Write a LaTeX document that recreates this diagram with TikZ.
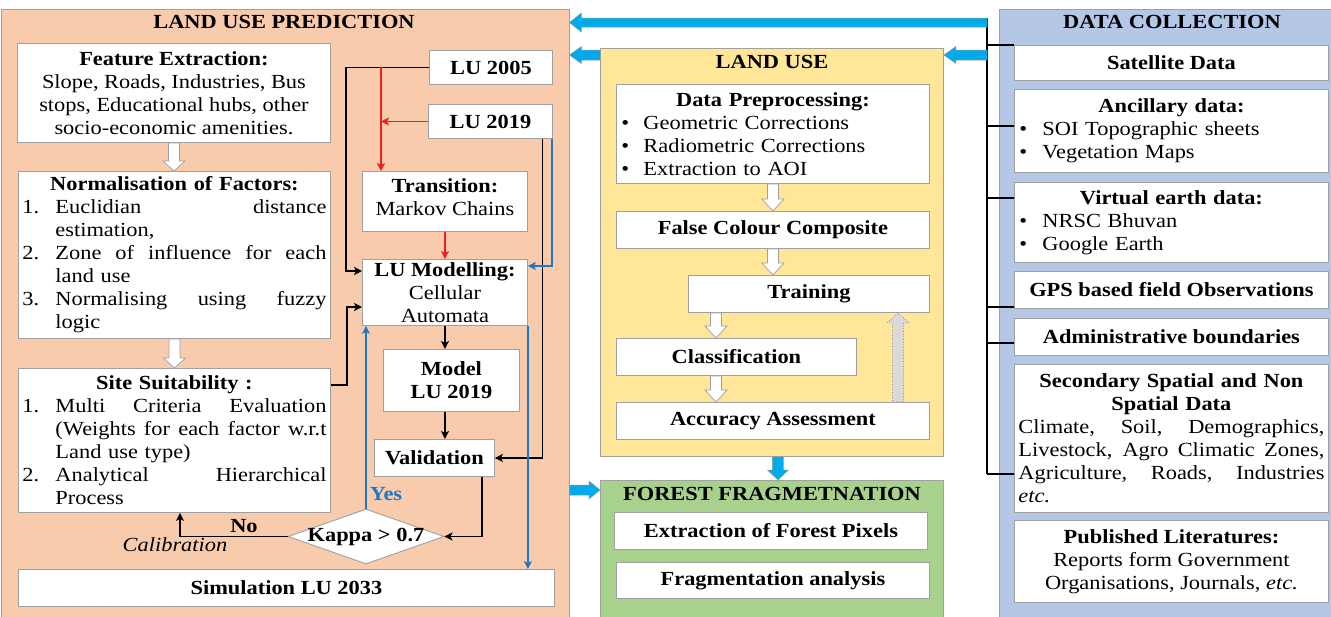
\documentclass[tikz,border=0pt]{standalone}
\usepackage{fontspec}
\setmainfont{Liberation Serif}[FakeStretch=1.12]
\usetikzlibrary{arrows.meta,calc,shapes.geometric}
\setlength{\parindent}{0pt}
\hbadness=10000 \hfuzz=20pt

\definecolor{predfill}{RGB}{248,203,173}
\definecolor{lufill}{RGB}{255,230,153}
\definecolor{fffill}{RGB}{169,209,142}
\definecolor{dcfill}{RGB}{180,199,231}
\definecolor{edgegray}{RGB}{160,160,160}
\definecolor{flowblue}{RGB}{0,170,235}
\definecolor{linkblue}{RGB}{30,120,200}
\definecolor{linkred}{RGB}{240,30,30}
\definecolor{hintgray}{RGB}{217,217,217}

\newcommand{\bodyfont}{\fontsize{20}{23}\selectfont}
% centred line spanning the text block
\newcommand{\ctr}[1]{\makebox[\hsize]{#1}\par}
% line whose word spaces are spread to the given width
\newcommand{\spread}[2]{\makebox[#1][s]{\spaceskip=0pt\xspaceskip=0pt #2}}
% numbered, justified first line of a list item
\newcommand{\nline}[2]{\makebox[33pt][l]{#1}\spread{\dimexpr\hsize-33pt\relax}{#2}\par}
% justified continuation line
\newcommand{\restjust}[1]{\hspace*{33pt}\spread{\dimexpr\hsize-33pt\relax}{#1}\par}
% last (ragged) continuation line
\newcommand{\restline}[1]{\hspace*{33pt}#1\par}
% full-width justified line
\newcommand{\fulljust}[1]{\spread{\hsize}{#1}\par}
% bullet item: indent, bullet column, text
\newcommand{\bul}[3]{\hspace*{#1}\makebox[#2][l]{\textbullet}#3\par}

% block arrows: style, tail, tip, shaft half width, head half width, head length
\newcommand{\harrow}[6]{%
  \path[#1] let \p1=(#2), \p2=(#3), \n1={(\x1-\x2)/abs(\x1-\x2)} in
    (\x1,{\y2+#4}) -- ({\x2+(\n1)*#6},{\y2+#4}) -- ({\x2+(\n1)*#6},{\y2+#5}) -- (\p2)
    -- ({\x2+(\n1)*#6},{\y2-#5}) -- ({\x2+(\n1)*#6},{\y2-#4}) -- (\x1,{\y2-#4}) -- cycle;}
\newcommand{\varrow}[6]{%
  \path[#1] let \p1=(#2), \p2=(#3), \n1={(\y1-\y2)/abs(\y1-\y2)} in
    ({\x2+#4},\y1) -- ({\x2+#4},{\y2+(\n1)*#6}) -- ({\x2+#5},{\y2+(\n1)*#6}) -- (\p2)
    -- ({\x2-#5},{\y2+(\n1)*#6}) -- ({\x2-#4},{\y2+(\n1)*#6}) -- ({\x2-#4},\y1) -- cycle;}

\begin{document}
\begin{tikzpicture}[x=1pt,y=-1pt,font=\bodyfont,
  box/.style={draw=edgegray,fill=white,line width=0.9pt,inner sep=0pt,align=center,anchor=north west,font=\bodyfont},
  panel/.style={draw=edgegray,line width=0.9pt,inner sep=0pt,anchor=north west},
  ttl/.style={inner sep=0pt,font=\bodyfont},
  lbl/.style={inner sep=0pt,font=\bodyfont},
  blk/.style={draw=black,line width=1.7pt,-{Stealth[length=8pt,width=8pt,inset=2pt]}},
  redc/.style={draw=linkred,line width=1.8pt,-{Stealth[length=8pt,width=8pt,inset=2pt]}},
  bluec/.style={draw=linkblue,line width=1.7pt,-{Stealth[length=8pt,width=8pt,inset=2pt]}},
  trunk/.style={draw=black,line width=1.6pt},
  hollowarr/.style={fill=white,draw=edgegray,line width=0.7pt},
  bluearr/.style={fill=flowblue,draw=gray!80,line width=0.5pt},
  hintarr/.style={fill=hintgray,draw=gray,line width=0.7pt,dotted}]
\useasboundingbox (0,0) rectangle (1331,616);
\clip (0,0) rectangle (1331,616);
\fill[white] (0,0) rectangle (1331,616);

% ---------------- panels ----------------
\node[panel,fill=predfill,minimum width=568pt,minimum height=620pt] (lup) at (0.5,9) {};
\node[panel,fill=lufill,minimum width=343pt,minimum height=408pt] (lu) at (600,48) {};
\node[panel,fill=fffill,minimum width=343pt,minimum height=145pt] (ff) at (600,480) {};
\node[panel,fill=dcfill,minimum width=341pt,minimum height=620pt] (dc) at (999,9) {};

\node[ttl] (luptitle) at (284,22) {\textbf{LAND USE PREDICTION}};
\node[ttl] (lutitle) at (772,62) {\textbf{LAND USE}};
\node[ttl] (fftitle) at (772,494) {\textbf{FOREST FRAGMETNATION}};
\node[ttl] (dctitle) at (1172,22) {\textbf{DATA COLLECTION}};

% ---------------- land use prediction ----------------
\node[box,minimum width=313pt,minimum height=99pt] (fe) at (17,43)
  {\textbf{Feature Extraction:}\\Slope, Roads, Industries, Bus\\stops, Educational hubs, other\\socio-economic amenities.};
\node[box,text width=304pt,align=left,minimum width=312pt,minimum height=167pt] (norm) at (18,171) {%
  \ctr{\textbf{Normalisation of Factors:}}
  \nline{1.}{Euclidian distance}
  \restline{estimation,}
  \nline{2.}{Zone of influence for each}
  \restline{land use}
  \nline{3.}{Normalising using fuzzy}
  \restline{logic}};
\node[box,text width=304pt,align=left,minimum width=312pt,minimum height=144pt] (site) at (18,368) {%
  \ctr{\textbf{Site Suitability :}}
  \nline{1.}{Multi Criteria Evaluation}
  \restjust{(Weights for each factor w.r.t}
  \restline{Land use type)}
  \nline{2.}{Analytical Hierarchical}
  \restline{Process}};

\node[box,minimum width=123pt,minimum height=34pt] (lu05) at (429,50) {\textbf{LU 2005}};
\node[box,minimum width=124pt,minimum height=34pt] (lu19) at (428,104) {\textbf{LU 2019}};
\node[box,minimum width=165pt,minimum height=60pt] (trn) at (362,171) {\textbf{Transition:}\\Markov Chains\\[-14pt]\mbox{}};
\node[box,minimum width=165pt,minimum height=66pt] (lum) at (362,259) {\textbf{LU Modelling:}\\Cellular\\Automata};
\node[box,minimum width=136pt,minimum height=62pt] (mod) at (383,349) {\textbf{Model}\\\textbf{LU 2019}};
\node[box,minimum width=120pt,minimum height=37pt] (val) at (374,439) {\textbf{Validation}};
\node[diamond,draw=edgegray,fill=white,line width=0.9pt,minimum width=156pt,minimum height=55pt,inner sep=0pt]
  (kappa) at (366,536.5) {\makebox[0pt]{\textbf{Kappa > 0.7}}};
\node[box,minimum width=536pt,minimum height=37pt] (sim) at (18,569) {\textbf{Simulation LU 2033}};

\varrow{hollowarr}{fe.south}{fe.south |- norm.north}{5.5pt}{11pt}{10pt}
\varrow{hollowarr}{norm.south}{norm.south |- site.north}{5.5pt}{11pt}{10pt}

% connectors
\coordinate (lumA) at ($(lum.north west)+(0,12)$);
\draw[blk] (lu05.west) -| ($(lumA)+(-16,0)$) -- (lumA);
\coordinate (redx) at ($(trn.north west)+(19,0)$);
\draw[redc] (lu05.west -| redx) -- (redx);
\draw[redc] (lu19.west) -- (lu19.west -| redx);
\draw[redc] (trn.south) -- (trn.south |- lum.north);
\draw[blk] ($(lu19.south east)+(-10.5,0)$) |- (val.east);
\draw[bluec] ($(lu19.south east)+(-1,0)$) |- ($(lum.north east)+(0,7)$);
\coordinate (siteA) at ($(site.north east)+(0,17)$);
\coordinate (lumB) at ($(lum.north west)+(0,48)$);
\draw[blk] (siteA) -- ++(16,0) |- (lumB);
\draw[blk] (lum.south) -- (lum.south |- mod.north);
\draw[blk] (lum.south |- mod.south) -- (lum.south |- val.north);
\draw[blk] ($(val.south east)+(-13,0)$) |- (kappa.east);
\coordinate (calib) at ($(site.south west)+(162,0)$);
\draw[blk] (kappa.west) -| (calib);
\draw[bluec] (kappa.north) -- (kappa.north |- lum.south);
\draw[bluec] (lum.south east) -- (lum.south east |- sim.north);

\node[lbl] (nolbl) at (244,526) {\textbf{No}};
\node[lbl] (callbl) at (175,545) {\textit{Calibration}};
\node[lbl,text=linkblue] (yeslbl) at (386,494) {\textbf{Yes}};

% ---------------- land use ----------------
\node[box,text width=305pt,align=left,minimum width=313pt,minimum height=99pt] (dp) at (616,84) {%
  \ctr{\textbf{Data Preprocessing:}}
  \bul{1pt}{22pt}{Geometric Corrections}
  \bul{1pt}{22pt}{Radiometric Corrections}
  \bul{1pt}{22pt}{Extraction to AOI}};
\node[box,minimum width=313pt,minimum height=37pt] (fcc) at (616,211) {\textbf{False Colour Composite}};
\node[box,minimum width=241pt,minimum height=37pt] (train) at (688,275) {\textbf{Training}};
\node[box,minimum width=240pt,minimum height=37pt] (cls) at (616,338) {\textbf{Classification}};
\node[box,minimum width=313pt,minimum height=37pt] (acc) at (616,402) {\textbf{Accuracy Assessment}};

\varrow{hollowarr}{dp.south}{dp.south |- fcc.north}{5.5pt}{11pt}{12pt}
\varrow{hollowarr}{fcc.south}{fcc.south |- train.north}{5.5pt}{11pt}{12pt}
\coordinate (clsx) at ($(train.south west)+(28,0)$);
\varrow{hollowarr}{clsx}{clsx |- cls.north}{5.5pt}{11pt}{12pt}
\varrow{hollowarr}{clsx |- cls.south}{clsx |- acc.north}{5.5pt}{11pt}{12pt}
\coordinate (fbx) at ($(acc.north west)+(282,0)$);
\varrow{hintarr}{fbx}{fbx |- train.south}{5.5pt}{11pt}{10pt}

% ---------------- forest fragmentation ----------------
\node[box,minimum width=313pt,minimum height=37pt] (efp) at (614,512) {\textbf{Extraction of Forest Pixels}};
\node[box,minimum width=313pt,minimum height=36pt] (fa) at (616,562) {\textbf{Fragmentation analysis}};

% ---------------- data collection ----------------
\node[box,minimum width=314pt,minimum height=35pt] (sat) at (1014,45) {\textbf{Satellite Data}};
\node[box,text width=306pt,align=left,minimum width=314pt,minimum height=83pt] (anc) at (1014,89) {%
  \ctr{\textbf{Ancillary data:}}
  \bul{1pt}{23pt}{SOI Topographic sheets}
  \bul{1pt}{23pt}{Vegetation Maps}};
\node[box,text width=306pt,align=left,minimum width=314pt,minimum height=80pt] (ved) at (1014,182) {%
  \ctr{\textbf{Virtual earth data:}}
  \bul{1pt}{23pt}{NRSC Bhuvan}
  \bul{1pt}{23pt}{Google Earth}};
\node[box,minimum width=314pt,minimum height=37pt] (gps) at (1014,271) {\textbf{GPS based field Observations}};
\node[box,minimum width=314pt,minimum height=37pt] (adm) at (1014,318) {\textbf{Administrative boundaries}};
\node[box,text width=306pt,align=left,minimum width=314pt,minimum height=148pt] (sec) at (1014,364) {%
  \ctr{\textbf{Secondary Spatial and Non}}
  \ctr{\textbf{Spatial Data}}
  \fulljust{Climate, Soil, Demographics,}
  \fulljust{Livestock, Agro Climatic Zones,}
  \fulljust{Agriculture, Roads, Industries}
  \textit{etc.}\par};
\node[box,minimum width=314pt,minimum height=82pt] (pub) at (1014,520)
  {\textbf{Published Literatures:}\\Reports form Government\\Organisations, Journals, \textit{etc.}};

% trunk feeding the data sources
\coordinate (trA) at (987,18);
\coordinate (trB) at (987,474);
\draw[trunk] (trA) -- (trB);
\foreach \b/\dy in {sat/0,anc/37,ved/16,gps/36,adm/25,sec/110}{
  \path ($(\b.north west)+(0,\dy)$) coordinate (br\b);
  \draw[trunk] (trA |- br\b) -- (br\b);
}

% ---------------- flow arrows between panels ----------------
\coordinate (tk1) at (987,22.5);
\coordinate (tk2) at (987,55);
\harrow{bluearr}{tk1}{lup.east |- tk1}{4.5pt}{9.5pt}{12pt}
\harrow{bluearr}{lu.west |- tk2}{lup.east |- tk2}{5pt}{8.5pt}{12pt}
\harrow{bluearr}{tk2}{lu.east |- tk2}{5pt}{8.5pt}{12pt}
\coordinate (dnA) at ($(lu.south)+(6,0)$);
\varrow{bluearr}{dnA}{dnA |- ff.north}{5.5pt}{10.5pt}{10pt}
\coordinate (ffin) at ($(ff.north west)+(0,10)$);
\harrow{bluearr}{lup.east |- ffin}{ffin}{5pt}{9pt}{11pt}
\end{tikzpicture}
\end{document}
